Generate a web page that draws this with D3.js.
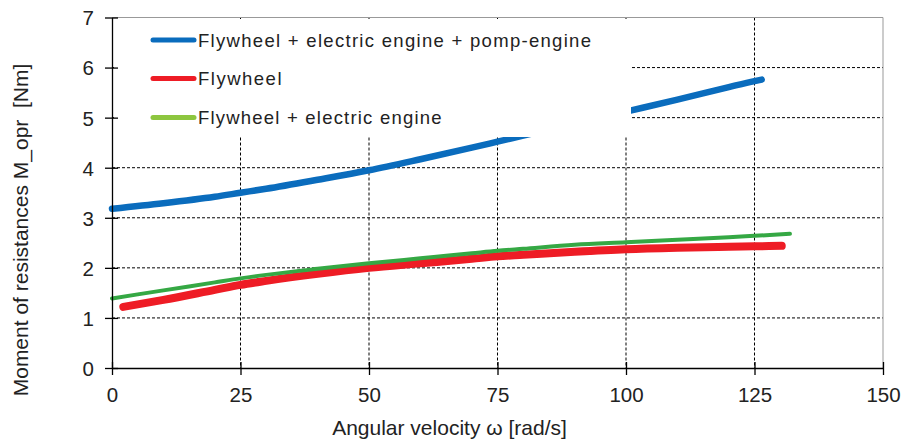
<!DOCTYPE html>
<html><head><meta charset="utf-8">
<script src="https://cdn.jsdelivr.net/npm/d3@7"></script>
<style>body{margin:0;background:#fff}svg{display:block}text{font-family:"Liberation Sans",Arial,sans-serif;fill:#222}</style>
</head><body><svg id="c" width="904" height="441"></svg>
<script>
const xTicks = [0,25,50,75,100,125,150];
const yTicks = [0,1,2,3,4,5,6,7];
const seriesNames = ["Flywheel + electric engine + pomp-engine","Flywheel","Flywheel + electric engine"];
const blueW = [0,10,20,25,30,40,50,60,70,75,80,90,100,110,120,125,126.4];
const blueM = [3.18,3.29,3.42,3.50,3.58,3.76,3.95,4.17,4.40,4.52,4.64,4.88,5.12,5.36,5.61,5.73,5.76];
const redW = [2.2,10,20,25,30,40,50,60,70,75,80,90,100,110,120,125,130.3];
const redM = [1.22,1.36,1.56,1.66,1.74,1.88,2.00,2.09,2.18,2.23,2.26,2.32,2.37,2.40,2.42,2.43,2.44];
const greenW = [0,10,20,25,30,40,50,60,70,75,80,90,100,110,120,125,131.9];
const greenM = [1.39,1.55,1.71,1.79,1.86,1.98,2.09,2.19,2.29,2.34,2.38,2.46,2.51,2.56,2.61,2.64,2.68];

const svg = d3.select("#c");
const L=112, R=883, T=17.5, B=368;
const x = d3.scaleLinear().domain([0,150]).range([L,R]);
const y = d3.scaleLinear().domain([0,7]).range([B,T]);

// gridlines
const g = svg.append("g");
g.selectAll("line.h").data(yTicks.filter(d=>d>0&&d<7)).join("line")
  .attr("x1",L).attr("x2",R).attr("y1",d=>y(d)).attr("y2",d=>y(d))
  .attr("stroke","#000").attr("stroke-width",1).attr("stroke-dasharray","3,2");
g.selectAll("line.v").data(xTicks.filter(d=>d>0&&d<150)).join("line")
  .attr("y1",T).attr("y2",B).attr("x1",d=>x(d)).attr("x2",d=>x(d))
  .attr("stroke","#000").attr("stroke-width",1).attr("stroke-dasharray","3,2");

// frame top/right
svg.append("line").attr("x1",L).attr("x2",R).attr("y1",T).attr("y2",T).attr("stroke","#999");
svg.append("line").attr("x1",R).attr("x2",R).attr("y1",T).attr("y2",B).attr("stroke","#999");

const line = d3.line().curve(d3.curveMonotoneX);
function draw(W,M,color,w){
  svg.append("path").attr("d",line(W.map((d,i)=>[x(d),y(M[i])])))
    .attr("fill","none").attr("stroke",color).attr("stroke-width",w)
    .attr("stroke-linecap","round").attr("stroke-linejoin","round");
}
draw(blueW,blueM,"#0a6cbd",6.5);
draw(redW,redM,"#ee1c25",8);
draw(greenW,greenM,"#35a844",4);

// legend box
svg.append("rect").attr("x",114).attr("y",19).attr("width",517).attr("height",118).attr("fill","#fff");
const legColors=["#0a6cbd","#ee1c25","#8dc63f"];
const legY=[40,78.5,117.5];
const legLen=[393,83.5,243.5];
seriesNames.forEach((n,i)=>{
  svg.append("line").attr("x1",153).attr("x2",194).attr("y1",legY[i]).attr("y2",legY[i])
    .attr("stroke",legColors[i]).attr("stroke-width",5).attr("stroke-linecap","round");
  svg.append("text").attr("x",198).attr("y",legY[i]).attr("dy","0.36em")
    .attr("font-size",18.5).attr("textLength",legLen[i]).attr("lengthAdjust","spacing").text(n);
});

// axes
const yAxis = d3.axisLeft(y).tickValues(yTicks).tickFormat(d3.format("d")).tickSizeInner(6).tickSizeOuter(0).tickPadding(12);
const ya = svg.append("g").attr("transform",`translate(${L},0)`).call(yAxis);
ya.selectAll(".tick line").attr("x2",6).attr("x1",-7);
const xAxis = d3.axisBottom(x).tickValues(xTicks).tickFormat(d3.format("d")).tickSizeInner(7).tickSizeOuter(0).tickPadding(12);
const xa = svg.append("g").attr("transform",`translate(0,${B})`).call(xAxis);
xa.selectAll(".tick line").attr("y1",-6).attr("y2",7);
[ya,xa].forEach(a=>{
  a.select(".domain").attr("stroke","#000").attr("stroke-width",1.3);
  a.selectAll(".tick line").attr("stroke","#000").attr("stroke-width",1.3);
  a.selectAll("text").attr("font-size",20.5).attr("font-family","Liberation Sans, Arial, sans-serif").attr("fill","#222");
});
ya.selectAll("text").attr("dy","0.36em");

// titles
svg.append("text").attr("x",449.5).attr("y",435).attr("text-anchor","middle").attr("font-size",21)
  .text("Angular velocity ω [rad/s]");
svg.append("text").attr("transform","translate(28,230) rotate(-90)").attr("text-anchor","middle")
  .attr("font-size",21).style("white-space","pre").text("Moment of resistances M_opr  [Nm]");
</script></body></html>
